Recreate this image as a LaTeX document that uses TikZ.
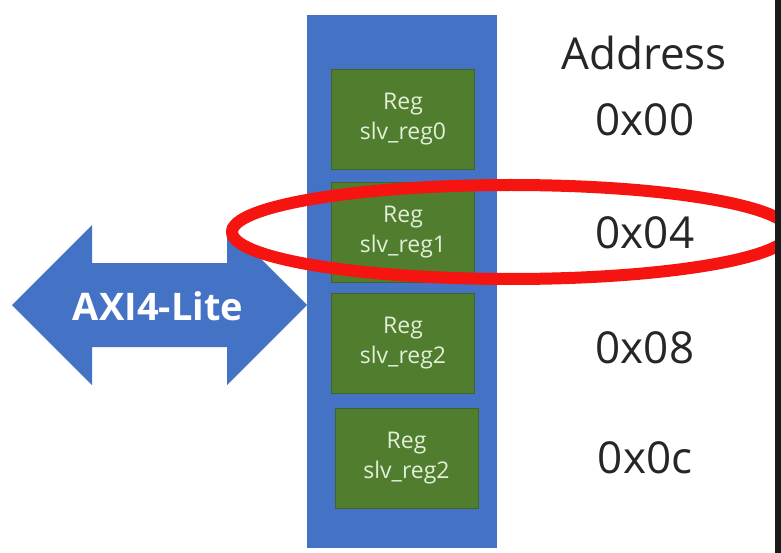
\documentclass[tikz,border=0pt]{standalone}
\usepackage{fontspec}
\setmainfont{Open Sans}
\usetikzlibrary{positioning}
\definecolor{axiblue}{HTML}{4472C4}
\definecolor{reggreen}{HTML}{507D2E}
\definecolor{regtext}{HTML}{E2EFD9}
\definecolor{markred}{HTML}{F5140F}
\definecolor{edgedark}{HTML}{1A1A1A}

\begin{document}
\begin{tikzpicture}[x=1pt,y=-1pt,
  regbox/.style={fill=reggreen,draw=reggreen!80!black,line width=0.6pt,minimum width=143pt,minimum height=100pt,inner sep=0pt,align=center,text=regtext,font=\fontsize{23}{30}\selectfont},
  addr/.style={font=\fontsize{44}{48}\selectfont,text=black!85}]
  \fill[white] (0,0) rectangle (781,553);
  \useasboundingbox (0,0) rectangle (781,553);

  % register column
  \node[fill=axiblue,minimum width=190pt,minimum height=533pt,inner sep=0pt] (col) at (402,281.5) {};
  \foreach \i/\cx/\cy/\lbl in {0/403/119.5/slv\_reg0,1/403/232/slv\_reg1,2/403/343/slv\_reg2,3/406.5/458/slv\_reg2}
    \node[regbox] (reg\i) at (\cx,\cy) {Reg\\ \lbl};

  % bus arrow
  \fill[axiblue] (12,305) -- (92,225) -- (92,263) -- (227,263) -- (227,225) -- (307,305)
    -- (227,385) -- (227,347) -- (92,347) -- (92,385) -- cycle;
  \node[font=\fontsize{38}{42}\selectfont\bfseries,text=white] (axi) at (158,306) {AXI4-Lite};

  % addresses
  \node[addr,anchor=base] (addrtitle) at (644,70) {Address};
  \foreach \a/\by [count=\k from 0] in {0x00/136,0x04/249,0x08/363,0x0c/473}
    \node[addr,anchor=base] (addr\k) at (645,\by) {\a};

  % highlight
  \draw[markred,line width=12pt] (511,232) ellipse [x radius=279,y radius=47];
  \fill[edgedark] (775,0) rectangle (781,553);
\end{tikzpicture}
\end{document}
